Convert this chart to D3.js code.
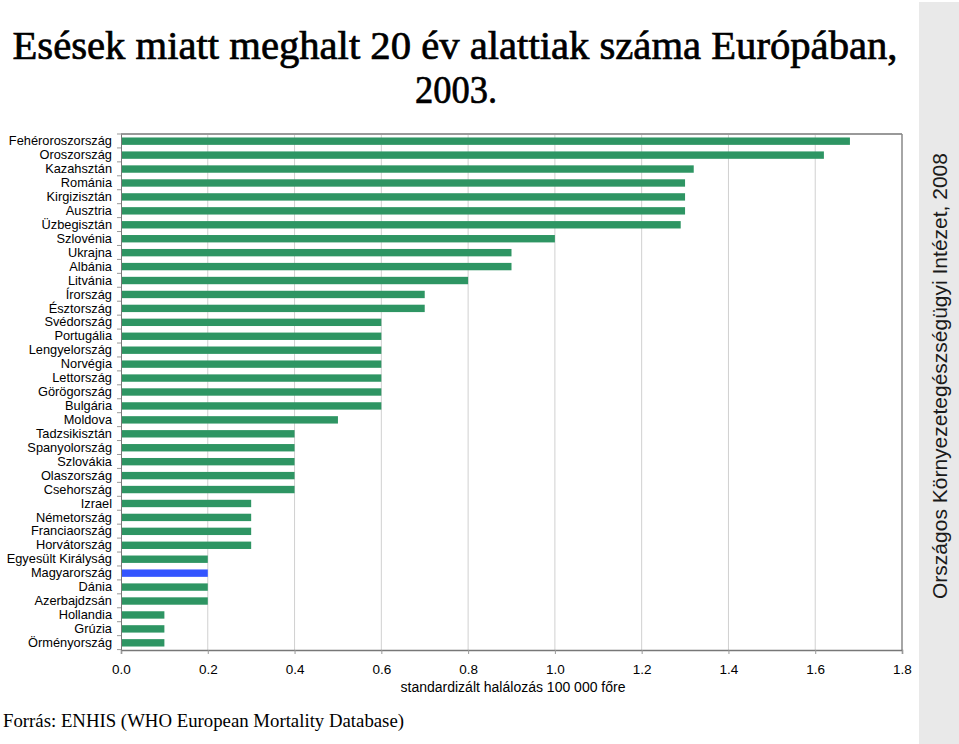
<!DOCTYPE html>
<html><head><meta charset="utf-8">
<script src="https://cdn.jsdelivr.net/npm/d3@7"></script>
<style>body{margin:0;background:#fff;} svg{display:block;}</style>
</head><body>
<script>
const categories = ["Fehéroroszország","Oroszország","Kazahsztán","Románia","Kirgizisztán","Ausztria","Üzbegisztán","Szlovénia","Ukrajna","Albánia","Litvánia","Írország","Észtország","Svédország","Portugália","Lengyelország","Norvégia","Lettország","Görögország","Bulgária","Moldova","Tadzsikisztán","Spanyolország","Szlovákia","Olaszország","Csehország","Izrael","Németország","Franciaország","Horvátország","Egyesült Királyság","Magyarország","Dánia","Azerbajdzsán","Hollandia","Grúzia","Örményország"];
const values = [1.68,1.62,1.32,1.30,1.30,1.30,1.29,1.00,0.90,0.90,0.80,0.70,0.70,0.60,0.60,0.60,0.60,0.60,0.60,0.60,0.50,0.40,0.40,0.40,0.40,0.40,0.30,0.30,0.30,0.30,0.20,0.20,0.20,0.20,0.10,0.10,0.10];
const highlight = ["Magyarország"];
const xTicks = [0,0.2,0.4,0.6,0.8,1.0,1.2,1.4,1.6,1.8];

(function(){
const W = 959, H = 744;
const svg = d3.select("body").append("svg").attr("width", W).attr("height", H);

// right gray panel
svg.append("rect").attr("x", 919).attr("y", 2).attr("width", 40).attr("height", 742).attr("fill", "#e9e9e9");
svg.append("text").attr("transform", "translate(947,376) rotate(-90)")
  .attr("text-anchor", "middle").attr("font-family", "Liberation Sans, Arial, sans-serif")
  .attr("font-size", 21).attr("fill", "#1a1a1a").text("Országos Környezetegészségügyi Intézet, 2008");

// title
const titleFont = "Liberation Serif, Times New Roman, serif";
svg.append("text").attr("x", 455).attr("y", 59).attr("text-anchor", "middle")
  .attr("font-family", titleFont).attr("font-size", 40)
  .attr("stroke", "#000").attr("stroke-width", 0.7)
  .attr("textLength", 885).attr("lengthAdjust", "spacingAndGlyphs")
  .attr("fill", "#000").text("Esések miatt meghalt 20 év alattiak száma Európában,");
svg.append("text").attr("x", 456).attr("y", 103).attr("text-anchor", "middle")
  .attr("font-family", titleFont).attr("font-size", 40)
  .attr("stroke", "#000").attr("stroke-width", 0.7)
  .attr("textLength", 82).attr("lengthAdjust", "spacingAndGlyphs")
  .attr("fill", "#000").text("2003.");

const mLeft = 121, mRight = 902, mTop = 134, mBottom = 650;
const x = d3.scaleLinear().domain([0, 1.8]).range([mLeft, mRight]);
const y = d3.scaleBand().domain(categories).range([mTop, mBottom]).paddingInner(0.47).paddingOuter(0.25);

// gridlines
svg.append("g").selectAll("line").data(xTicks.slice(1, -1)).join("line")
  .attr("x1", d => x(d)).attr("x2", d => x(d)).attr("y1", mTop).attr("y2", mBottom)
  .attr("stroke", "#d0d0d0").attr("stroke-width", 1);

// bars
svg.append("g").selectAll("rect").data(categories).join("rect")
  .attr("x", x(0)).attr("y", d => y(d))
  .attr("width", (d, i) => x(values[i]) - x(0)).attr("height", y.bandwidth())
  .attr("fill", d => highlight.includes(d) ? "#3355ff" : "#2e9563");

// frame: top & right
svg.append("line").attr("x1", mLeft).attr("x2", mRight).attr("y1", mTop).attr("y2", mTop).attr("stroke", "#999").attr("stroke-width", 2);
svg.append("line").attr("x1", mRight).attr("x2", mRight).attr("y1", mTop).attr("y2", mBottom).attr("stroke", "#888").attr("stroke-width", 1.5);

// x axis
const xAxis = svg.append("g").attr("transform", `translate(0,${mBottom})`)
  .call(d3.axisBottom(x).tickValues(xTicks).tickFormat(d3.format(".1f")).tickSize(4).tickPadding(10));
xAxis.select(".domain").attr("stroke", "#777").attr("stroke-width", 1.5);
xAxis.selectAll(".tick line").attr("stroke", "#999");
xAxis.selectAll("text").attr("font-family", "Liberation Sans, Arial, sans-serif").attr("font-size", 13.5).attr("fill", "#000");

// y axis
const step = y.step();
const yAxis = svg.append("g").attr("transform", `translate(${mLeft},0)`)
  .call(d3.axisLeft(y).tickSize(0).tickPadding(9));
yAxis.select(".domain").attr("stroke", "#777").attr("stroke-width", 1);
yAxis.selectAll("text").attr("font-family", "Liberation Sans, Arial, sans-serif").attr("font-size", 12.8).attr("fill", "#000");
// category boundary ticks
svg.append("g").selectAll("line").data(d3.range(categories.length + 1)).join("line")
  .attr("x1", mLeft - 4).attr("x2", mLeft).attr("y1", i => mTop + i * step).attr("y2", i => mTop + i * step)
  .attr("stroke", "#999");

// axis title
svg.append("text").attr("x", 513).attr("y", 692).attr("text-anchor", "middle")
  .attr("font-family", "Liberation Sans, Arial, sans-serif").attr("font-size", 14).attr("fill", "#000")
  .text("standardizált halálozás 100 000 főre");

// source
svg.append("text").attr("x", 3).attr("y", 727)
  .attr("font-family", "Liberation Serif, Times New Roman, serif").attr("font-size", 19)
  .attr("textLength", 401).attr("lengthAdjust", "spacingAndGlyphs")
  .attr("fill", "#000").text("Forrás: ENHIS (WHO European Mortality Database)");
})();
</script>
</body></html>
